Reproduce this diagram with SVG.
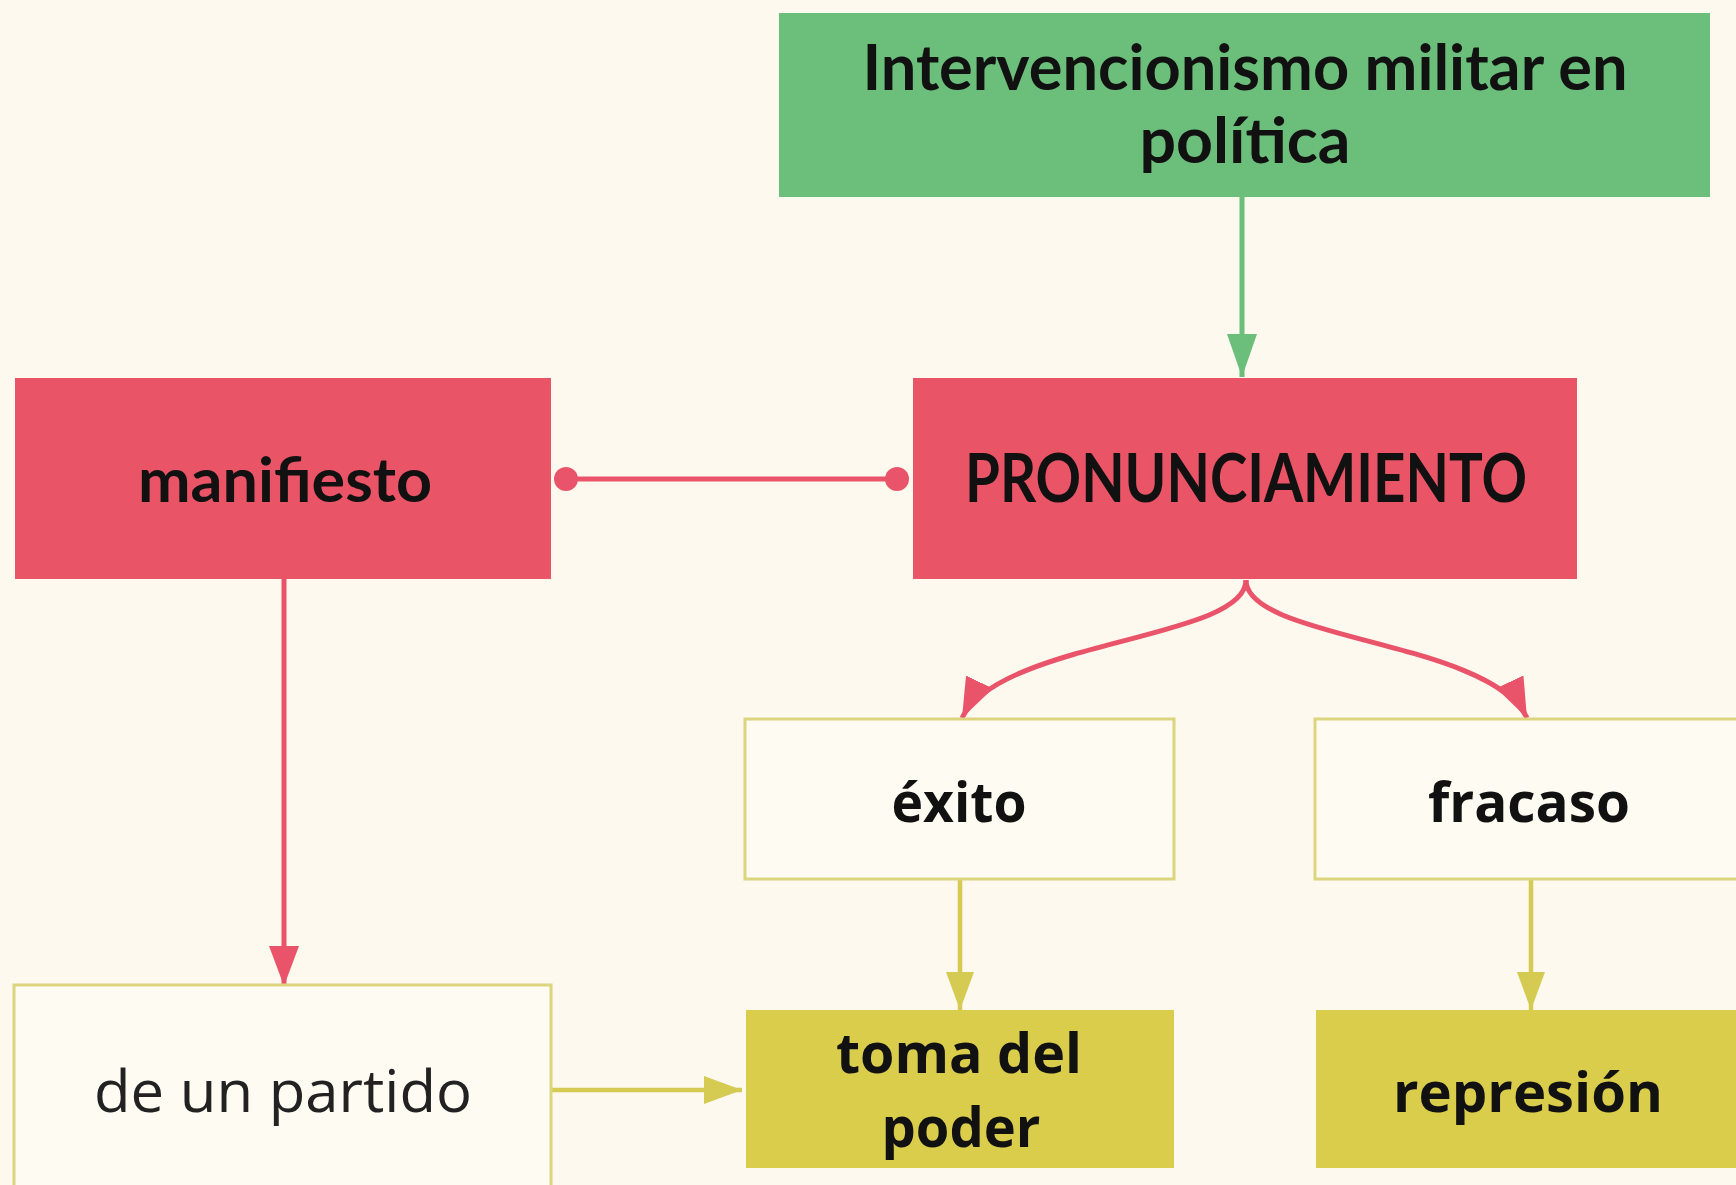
<svg xmlns="http://www.w3.org/2000/svg" width="1736" height="1185" viewBox="0 0 1736 1185">
<defs>
<style>
.bg{fill:#FDF9EE}
.green{fill:#6BBF7B}
.red{fill:#EA5467}
.ybox{fill:#D9CD4B}
.wbox{fill:#FEFBF2;stroke:#DDD47E;stroke-width:3}
.geo{font-family:Lato,"Liberation Sans",sans-serif;font-weight:700;fill:#111;text-anchor:middle}
.hum{font-family:"Open Sans","Liberation Sans",sans-serif;font-weight:700;fill:#111;text-anchor:middle}
.reg{font-family:"Open Sans","Liberation Sans",sans-serif;font-weight:400;fill:#222;text-anchor:middle}
.lr{fill:none;stroke:#E9546A;stroke-width:5}
.lg{fill:none;stroke:#6BBF7B;stroke-width:5}
.ly{fill:none;stroke:#D6CB52;stroke-width:4.5}
</style>
<marker id="ar" markerUnits="userSpaceOnUse" markerWidth="44" markerHeight="32" refX="40" refY="15" orient="auto"><path d="M0,0 L40,15 L0,30 Z" fill="#E9546A"/></marker>
<marker id="ag" markerUnits="userSpaceOnUse" markerWidth="46" markerHeight="32" refX="43" refY="15" orient="auto"><path d="M0,0 L43,15 L0,30 Z" fill="#6BBF7B"/></marker>
<marker id="ay" markerUnits="userSpaceOnUse" markerWidth="42" markerHeight="32" refX="38" refY="14" orient="auto"><path d="M0,0 L38,14 L0,28 Z" fill="#D6CB52"/></marker>
<marker id="dot" markerUnits="userSpaceOnUse" markerWidth="26" markerHeight="26" refX="13" refY="13" orient="auto"><circle cx="13" cy="13" r="12" fill="#E9546A"/></marker>
</defs>
<rect class="bg" x="0" y="0" width="1736" height="1185"/>
<g id="connectors">
<line class="lg" x1="1242" y1="197" x2="1242" y2="377" marker-end="url(#ag)"/>
<line class="lr" x1="566" y1="479" x2="897" y2="479" marker-start="url(#dot)" marker-end="url(#dot)"/>
<path class="lr" d="M1246 580 C1246 640 1000 640 962 718" marker-end="url(#ar)"/>
<path class="lr" d="M1246 580 C1246 640 1490 640 1527 718" marker-end="url(#ar)"/>
<line class="lr" x1="284" y1="579" x2="284" y2="986" marker-end="url(#ar)"/>
<line class="ly" x1="960" y1="879" x2="960" y2="1010" marker-end="url(#ay)"/>
<line class="ly" x1="1531" y1="879" x2="1531" y2="1010" marker-end="url(#ay)"/>
<line class="ly" x1="551" y1="1090" x2="742" y2="1090" marker-end="url(#ay)"/>
</g>
<g id="node-intervencionismo">
<rect class="green" x="779" y="13" width="931" height="184"/>
<text class="geo" x="1245" y="90" font-size="64" textLength="765" lengthAdjust="spacingAndGlyphs">Intervencionismo militar en</text>
<text class="geo" x="1245" y="163" font-size="64" textLength="211" lengthAdjust="spacingAndGlyphs">política</text>
</g>
<g id="node-manifiesto">
<rect class="red" x="15" y="378" width="536" height="201"/>
<text class="geo" x="285" y="502" font-size="62" textLength="294" lengthAdjust="spacingAndGlyphs">manifiesto</text>
</g>
<g id="node-pronunciamiento">
<rect class="red" x="913" y="378" width="664" height="201"/>
<text class="geo" x="1246" y="502" font-size="66" textLength="562" lengthAdjust="spacingAndGlyphs">PRONUNCIAMIENTO</text>
</g>
<g id="node-exito">
<rect class="wbox" x="745" y="719" width="429" height="160"/>
<text class="hum" x="959" y="822" font-size="56" textLength="135" lengthAdjust="spacingAndGlyphs">éxito</text>
</g>
<g id="node-fracaso">
<rect class="wbox" x="1315" y="719" width="430" height="160"/>
<text class="hum" x="1529" y="822" font-size="56" textLength="202" lengthAdjust="spacingAndGlyphs">fracaso</text>
</g>
<g id="node-partido">
<rect class="wbox" x="14" y="985" width="537" height="215"/>
<text class="reg" x="283" y="1112" font-size="58" textLength="378" lengthAdjust="spacingAndGlyphs">de un partido</text>
</g>
<g id="node-toma">
<rect class="ybox" x="746" y="1010" width="428" height="158"/>
<text class="hum" x="959" y="1073" font-size="56" textLength="246" lengthAdjust="spacingAndGlyphs">toma del</text>
<text class="hum" x="961" y="1147" font-size="56" textLength="159" lengthAdjust="spacingAndGlyphs">poder</text>
</g>
<g id="node-represion">
<rect class="ybox" x="1316" y="1010" width="430" height="158"/>
<text class="hum" x="1528" y="1112" font-size="56" textLength="270" lengthAdjust="spacingAndGlyphs">represión</text>
</g>
</svg>
